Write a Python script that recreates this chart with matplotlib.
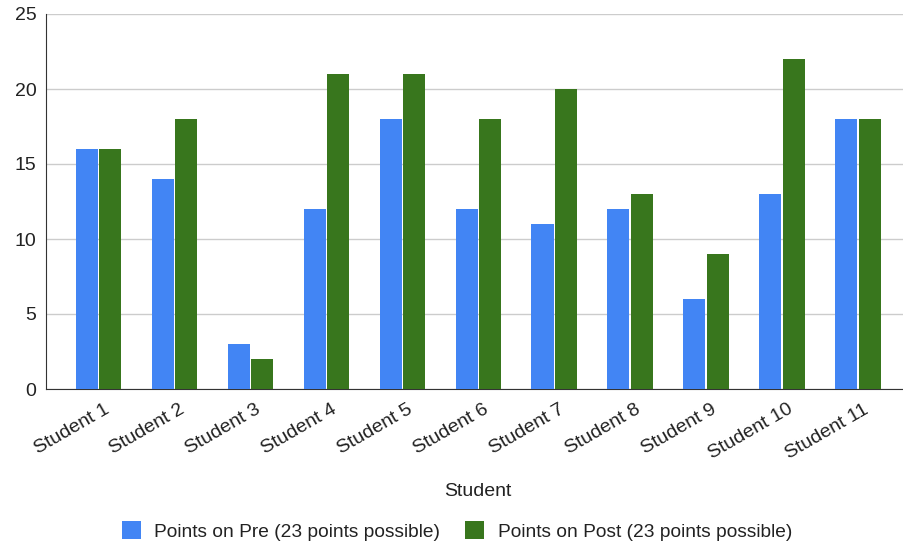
import matplotlib.pyplot as plt
from matplotlib.transforms import ScaledTranslation
import numpy as np

students = ["Student %d" % i for i in range(1, 12)]
pre = [16, 14, 3, 12, 18, 12, 11, 12, 6, 13, 18]
post = [16, 18, 2, 21, 21, 18, 20, 13, 9, 22, 18]
pre_label = "Points on Pre (23 points possible)"
post_label = "Points on Post (23 points possible)"

plt.rcParams['font.family'] = ['Liberation Sans', 'DejaVu Sans']

fig = plt.figure(figsize=(9.04, 5.43), dpi=100)
ax = fig.add_axes([46/904, 1-389/543, 857/904, 375/543])

x = np.arange(len(students))
w = 0.29
ax.bar(x - 0.155, pre, w, color="#4285f4", label=pre_label, zorder=3)
ax.bar(x + 0.155, post, w, color="#38761d", label=post_label, zorder=3)

ax.set_xlim(-0.69, 10.59)
ax.set_ylim(0, 25)
ax.set_yticks([0, 5, 10, 15, 20, 25])
ax.yaxis.grid(True, color="#cccccc", linewidth=1, zorder=0)
ax.set_axisbelow(True)
for s in ["top", "right"]:
    ax.spines[s].set_visible(False)
ax.spines["left"].set_color("#333333")
ax.spines["bottom"].set_color("#333333")
ax.tick_params(axis="both", length=0, labelsize=14, colors="#222222")
ax.tick_params(axis="y", pad=7)

ax.set_xticks(x)
ax.set_xticklabels(students, rotation=30, ha="right", rotation_mode="anchor")
off = ScaledTranslation(0.05, -0.07, fig.dpi_scale_trans)
for lab in ax.get_xticklabels():
    lab.set_transform(lab.get_transform() + off)

fig.text(478/904, 1-492/543, "Student", ha="center", va="center", fontsize=14, color="#222222")

fig.legend(loc="center", bbox_to_anchor=(457/904, 1-531/543), ncol=2, frameon=False,
           fontsize=13.8, handlelength=1.0, handleheight=1.0, columnspacing=1.3,
           handletextpad=0.7, labelcolor="#222222")

fig.savefig("out.png", dpi=100)
